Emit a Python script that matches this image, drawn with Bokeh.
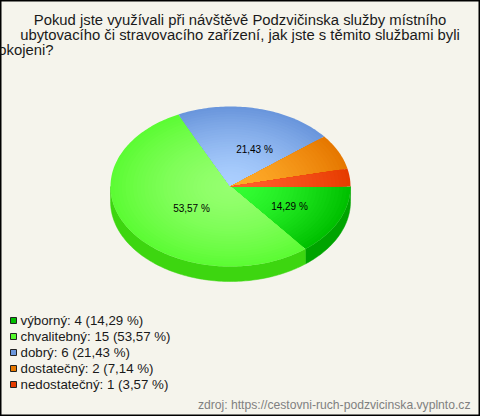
import numpy as np
from bokeh.plotting import figure
from bokeh.core.properties import value
from bokeh.embed import file_html
from bokeh.resources import INLINE

title_lines = ["Pokud jste využívali při návštěvě Podzvičinska služby místního",
               "ubytovacího či stravovacího zařízení, jak jste s těmito službami byli",
               "spokojeni?"]
categories = ["výborný", "chvalitebný", "dobrý", "dostatečný", "nedostatečný"]
counts = [4, 15, 6, 2, 1]
percent_labels = ["14,29", "53,57", "21,43", "7,14", "3,57"]
source_text = "zdroj: https://cestovni-ruch-podzvicinska.vyplnto.cz"

inner_colors = [(52, 255, 52), (150, 255, 112), (172, 208, 255), (255, 172, 42), (255, 94, 44)]
outer_colors = [(0, 192, 0), (92, 252, 52), (106, 150, 220), (230, 120, 0), (230, 60, 0)]
side_colors = ["#00A400", "#3DD610", "#5A82C0", "#C06000", "#C03000"]
legend_colors = ["#00BE00", "#54F82C", "#6A96DC", "#E67800", "#E63C00"]
bg = "#F5F4EC"

W, H = 480, 416
cx, cy, rx, ry, depth = 230, 186, 120, 80, 15

p = figure(width=W, height=H, x_range=(0, W), y_range=(H, 0), output_backend="svg",
           toolbar_location=None, min_border=0, background_fill_color=bg,
           border_fill_color=bg, outline_line_color="#000000", outline_line_width=2)
p.axis.visible = False
p.grid.visible = False

total = sum(counts)
edges = np.concatenate([[0], np.cumsum(counts)]) / total * 2 * np.pi


def arc(a, b):
    n = max(2, int((b - a) / 0.02))
    return np.linspace(a, b, n)


# side wall (only the front half of the ellipse is visible)
for i in range(len(counts)):
    a, b = edges[i], min(edges[i + 1], np.pi)
    if b <= a:
        continue
    t = arc(a, b)
    x = cx + rx * np.cos(t)
    y = cy + ry * np.sin(t)
    p.patch(np.concatenate([x, x[::-1]]), np.concatenate([y, y[::-1] + depth]),
            fill_color=side_colors[i], line_color=side_colors[i], line_width=0.5)

# top face: a radial gradient built from nested wedges, outer first
steps = 32
for i in range(len(counts)):
    t = arc(edges[i], edges[i + 1])
    xs, ys, cols = [], [], []
    for k in range(steps, 0, -1):
        f = k / steps
        g = f ** 1.5
        c = [round(inner_colors[i][j] + (outer_colors[i][j] - inner_colors[i][j]) * g) for j in range(3)]
        xs.append(np.concatenate([[cx], cx + f * rx * np.cos(t)]))
        ys.append(np.concatenate([[cy], cy + f * ry * np.sin(t)]))
        cols.append("#%02X%02X%02X" % tuple(c))
    p.patches(xs, ys, fill_color=cols, line_color=None)

# slice labels (only slices over 10 %)
label_x = {0: 289, 1: 191, 2: 254}
label_y = {0: 206, 1: 208, 2: 149}
shown = [i for i in range(len(counts)) if counts[i] / total >= 0.1]
p.text([label_x[i] for i in shown], [label_y[i] for i in shown],
       text=[percent_labels[i] + " %" for i in shown], text_font=value("Liberation Sans"),
       text_font_size="10px", text_color="#000000", text_align="center", text_baseline="middle")

# title
p.text([239.5, 239.5], [27, 42], text=title_lines[:2], text_font=value("Liberation Sans"),
       text_font_size="14.85px", text_color="#1A1A1A", text_align="center", text_baseline="bottom")
p.text([53], [57], text=title_lines[2:], text_font=value("Liberation Sans"),
       text_font_size="14.85px", text_color="#1A1A1A", text_align="right", text_baseline="bottom")

# legend
rows = np.arange(len(categories))
p.rect(13 + 0 * rows, 320 + 16 * rows, width=6, height=6, fill_color=legend_colors,
       line_color="#222222", line_width=1)
p.text(20 + 0 * rows, 320 + 16 * rows,
       text=[f"{c}: {n} ({q} %)" for c, n, q in zip(categories, counts, percent_labels)],
       text_font=value("Liberation Sans"), text_font_size="13.3px", text_color="#1A1A1A",
       text_baseline="middle")

p.text([470], [404], text=[source_text], text_font=value("Liberation Sans"), text_font_size="12.15px",
       text_color="#808080", text_align="right", text_baseline="middle")

open("out.html", "w").write(file_html(p, INLINE))
